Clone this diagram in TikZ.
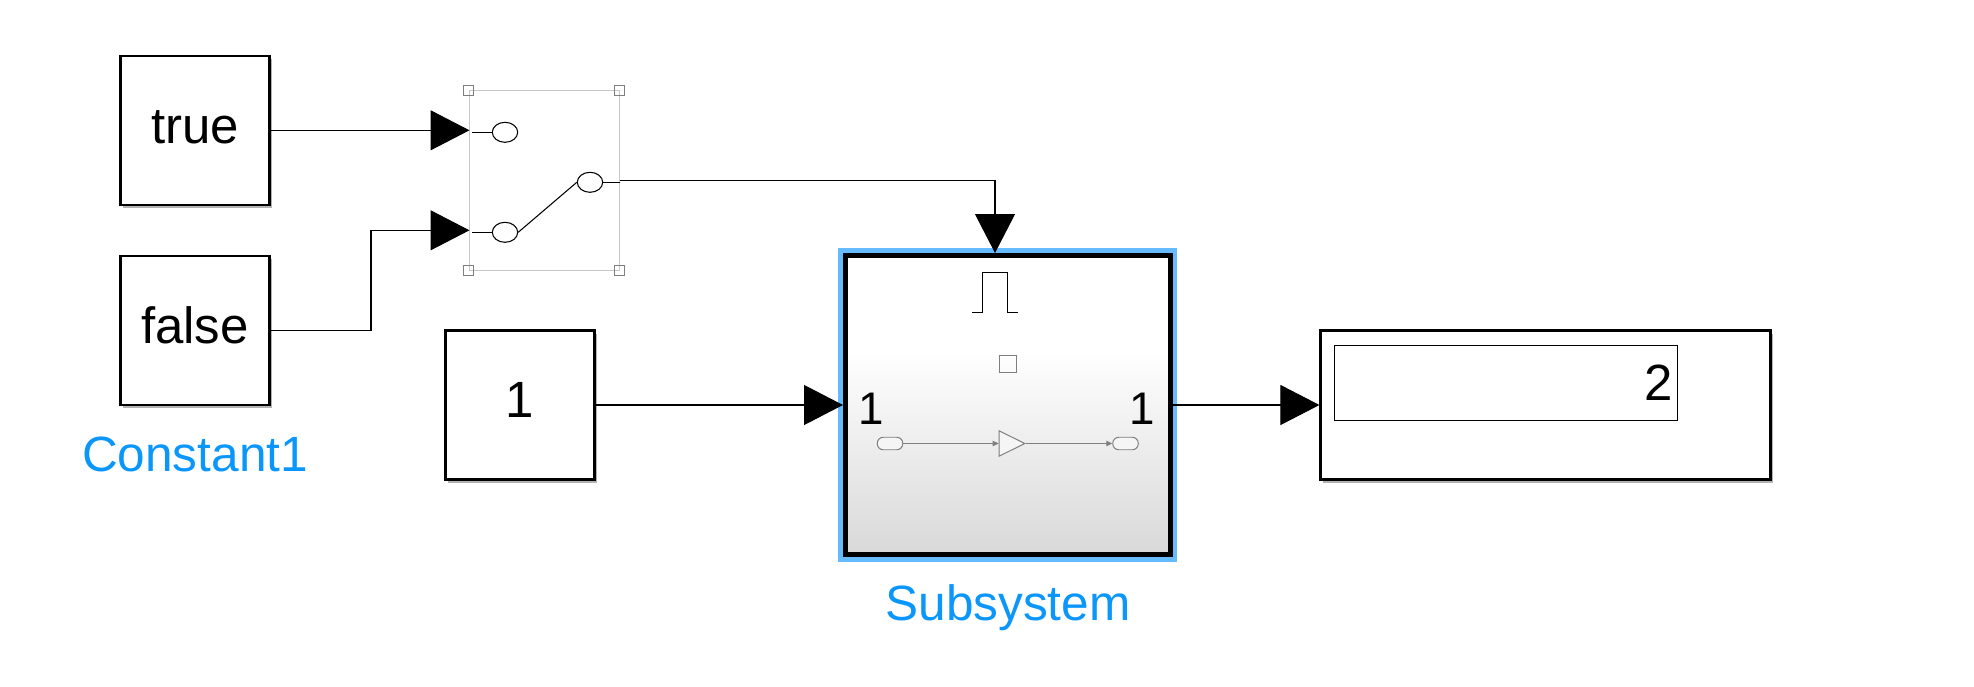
\documentclass[tikz,border=0pt]{standalone}
\usepackage{fontspec}
\setmainfont{Liberation Sans}
\usetikzlibrary{arrows.meta,shapes.geometric,shadows}
\definecolor{selblue}{HTML}{66BBFF}
\definecolor{namedblue}{HTML}{0A96FA}
\definecolor{icongray}{HTML}{7F7F7F}
\pgfdeclareverticalshading{subgrad}{100bp}{color(0bp)=(black!15); color(25bp)=(black!15); color(59.5bp)=(white); color(100bp)=(white)}
\begin{document}
\begin{tikzpicture}[every node/.style={font=\fontsize{14.5}{17}\selectfont},
		blockbox/.style={draw, fill=white, line width=.6pt, minimum width=1.49cm, minimum height=1.49cm, inner sep=0pt, text height=.254cm, text depth=0pt, drop shadow={shadow xshift=.25mm, shadow yshift=-.3mm, fill=black, opacity=.3}},
		subbox/.style={draw, line width=.05cm, minimum width=3.25cm, minimum height=2.99cm, shading=subgrad},
		sig/.style={-{Triangle[length=3.9mm, width=4mm]}, line width=.3pt},
		thinwire/.style={line width=.3pt},
		port/.style={draw, ellipse, line width=.3pt, minimum width=.254cm, minimum height=.2cm, inner sep=0pt},
		handle/.style={draw=icongray, line width=.28pt, minimum size=.1cm, inner sep=0pt},
		icon/.style={draw=icongray, fill=black!4, line width=.28pt, inner sep=0pt},
		iconwire/.style={icongray, line width=.28pt, -{Triangle[length=.06cm, width=.055cm]}},
		blockname/.style={namedblue, font=\fontsize{14.1}{16}\selectfont}]
	\useasboundingbox (0,0) rectangle (19.74,-6.87);

	% source blocks
	\node[blockbox] (true) at (1.95,-1.303) {true};
	\node[blockbox, below of=true, node distance=2cm] (false) {false};
	\node[blockname, below of=false, node distance=1.24cm] (constname) {Constant1};
	\node[blockbox] (one) at (5.2,-4.05) {1};

	% switch
	\node[draw=black!22, line width=.28pt, minimum width=1.5cm, minimum height=1.796cm, inner sep=0pt] (sw) at (5.443,-1.805) {};
	\foreach \c/\n in {north west/a, north east/b, south west/c, south east/d}
		\node[handle] (h\n) at (sw.\c) {};
	\node[port] (p1) at (5.05,-1.323) {};
	\node[port] (p2) at (5.05,-2.323) {};
	\node[port] (p3) at (5.9,-1.823) {};
	\coordinate (in1) at (4.695,-1.303);
	\coordinate (in2) at (4.695,-2.303);
	\coordinate (stub1) at (4.723,-1.323);
	\coordinate (stub2) at (4.723,-2.323);
	\coordinate (stub3) at (6.2,-1.823);
	\draw[thinwire] (stub1) -- (p1);
	\draw[thinwire] (stub2) -- (p2);
	\draw[thinwire] (p2.east) -- (p3.west);
	\draw[thinwire] (p3) -- (stub3);

	% triggered subsystem
	\node[fill=selblue, minimum width=3.39cm, minimum height=3.14cm, inner sep=0pt, right of=one, node distance=4.875cm] (subsel) {};
	\node[subbox, right of=one, node distance=4.88cm] (sub) {};
	\node[blockname, below of=sub, node distance=2.025cm] (subname) {Subsystem};
	\draw[line width=.3pt] (9.723,-3.123) -- (9.827,-3.123) -- (9.827,-2.723) -- (10.077,-2.723) -- (10.077,-3.123) -- (10.177,-3.123);
	\node[draw=icongray, line width=.28pt, minimum size=.17cm, inner sep=0pt] (sq) at (10.08,-3.638) {};
	\node[font=\fontsize{13}{15}\selectfont] (lab1) at (8.71,-4.085) {1};
	\node[font=\fontsize{13}{15}\selectfont] (lab2) at (11.42,-4.085) {1};
	\node[icon, rounded corners=.6mm, minimum width=.255cm, minimum height=.125cm] (pin) at (8.9,-4.435) {};
	\node[icon, isosceles triangle, isosceles triangle apex angle=52, isosceles triangle stretches, minimum width=.253cm, minimum height=.257cm] (gain) at (10.07,-4.435) {};
	\node[icon, rounded corners=.6mm, minimum width=.255cm, minimum height=.125cm] (pout) at (11.255,-4.435) {};
	\draw[iconwire] (pin) -- (gain);
	\draw[iconwire] (gain) -- (pout);

	% display
	\node[blockbox, minimum width=4.5cm, right of=sub, node distance=5.375cm] (disp) {};
	\node[draw, line width=.28pt, minimum width=3.434cm, minimum height=.75cm, text width=3.334cm, align=right, inner xsep=.05cm, inner ysep=0pt] (val) at (15.06,-3.828) {2};

	% signals
	\coordinate (en) at ([xshift=-1.3mm]sub.north);
	\draw[sig] (true) -- (in1);
	\draw[sig] (false) -- ++(1.76,0) |- (in2);
	\draw[sig] (sw.east) -| (en);
	\draw[sig] (one) -- (sub);
	\draw[sig] (sub) -- (disp);
\end{tikzpicture}
\end{document}
